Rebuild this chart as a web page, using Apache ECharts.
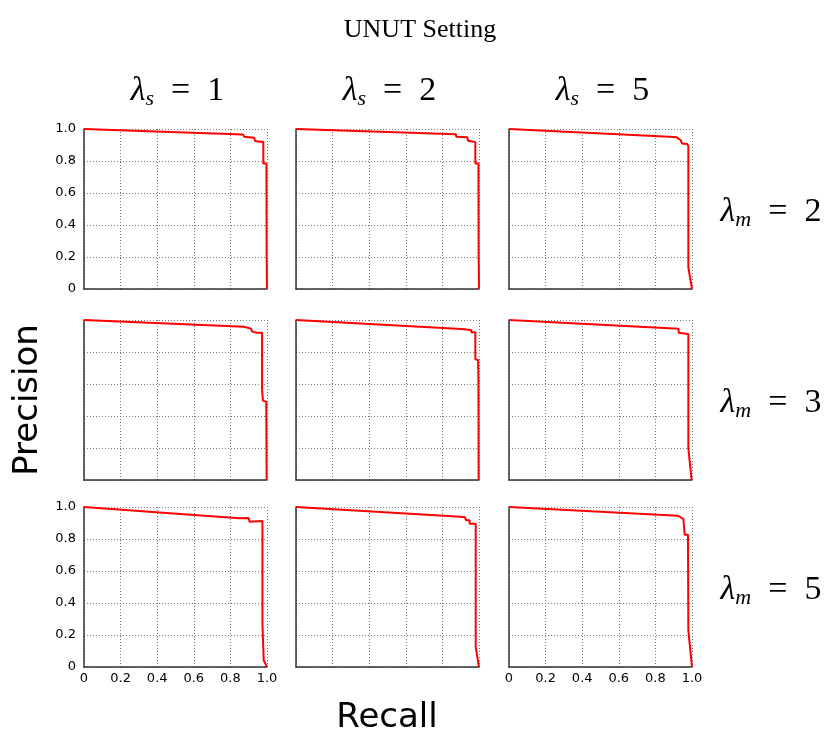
<!DOCTYPE html>
<html>
<head>
<meta charset="utf-8">
<script src="https://cdn.jsdelivr.net/npm/echarts@6/dist/echarts.min.js"></script>
<style>
  html, body { margin: 0; padding: 0; background: #fff; }
  #chart { width: 825px; height: 734px; }
</style>
</head>
<body>
<div id="chart"></div>
<script>
// tick labels shared by every panel
const tickValues = [0, 0.2, 0.4, 0.6, 0.8, 1.0];
const tickLabels = ['0', '0.2', '0.4', '0.6', '0.8', '1.0'];

const colLabels = ['1', '2', '5'];   // lambda_s
const rowLabels = ['2', '3', '5'];   // lambda_m

// [recall, precision] points
const pr_m2_s1 = [[0, 1], [0.87, 0.965], [0.875, 0.952], [0.93, 0.945], [0.935, 0.925], [0.96, 0.92], [0.98, 0.92], [0.98, 0.784], [0.997, 0.784], [0.998, 0.22], [1.0, 0]];
const pr_m2_s2 = [[0, 1], [0.873, 0.967], [0.876, 0.952], [0.936, 0.948], [0.94, 0.927], [0.945, 0.92], [0.98, 0.918], [0.98, 0.785], [0.997, 0.784], [0.998, 0.22], [1.0, 0]];
const pr_m2_s5 = [[0, 1], [0.876, 0.952], [0.916, 0.948], [0.938, 0.931], [0.945, 0.926], [0.945, 0.91], [0.975, 0.906], [0.98, 0.889], [0.98, 0.136], [1.0, 0]];
const pr_m3_s1 = [[0, 1], [0.873, 0.958], [0.877, 0.946], [0.913, 0.946], [0.918, 0.929], [0.94, 0.921], [0.973, 0.921], [0.973, 0.56], [0.978, 0.496], [0.996, 0.488], [0.998, 0]];
const pr_m3_s2 = [[0, 1], [0.904, 0.944], [0.905, 0.938], [0.958, 0.938], [0.958, 0.923], [0.98, 0.923], [0.98, 0.754], [0.995, 0.75], [0.997, 0.62], [0.998, 0]];
const pr_m3_s5 = [[0, 1], [0.927, 0.946], [0.927, 0.921], [0.98, 0.9125], [0.98, 0.198], [0.998, 0]];
const pr_m5_s1 = [[0, 1], [0.847, 0.929], [0.9, 0.931], [0.905, 0.908], [0.975, 0.9125], [0.975, 0.27], [0.982, 0.042], [1.0, 0]];
const pr_m5_s2 = [[0, 1], [0.922, 0.9375], [0.93, 0.917], [0.949, 0.917], [0.949, 0.896], [0.982, 0.896], [0.982, 0.125], [1.0, 0]];
const pr_m5_s5 = [[0, 1], [0.922, 0.946], [0.953, 0.925], [0.96, 0.827], [0.978, 0.827], [0.98, 0.229], [1.0, 0]];

const panels = [
  [pr_m2_s1, pr_m2_s2, pr_m2_s5],
  [pr_m3_s1, pr_m3_s2, pr_m3_s5],
  [pr_m5_s1, pr_m5_s2, pr_m5_s5]
];

(function () {
  var myChart = echarts.init(document.getElementById('chart'));

  const colLeft = [84, 296, 509];
  const rowTop = [129, 320, 507];
  const panelW = 183, panelH = 160;

  // which panels show tick labels (as in the original figure)
  const showY = [[true, false, false], [false, false, false], [true, false, false]];
  const showX = [[false, false, false], [false, false, false], [true, false, true]];

  function fmt(v) {
    const i = tickValues.findIndex(t => Math.abs(t - v) < 1e-6);
    return i >= 0 ? tickLabels[i] : '';
  }

  const grid = [], xAxis = [], yAxis = [], series = [];
  for (let r = 0; r < 3; r++) {
    for (let c = 0; c < 3; c++) {
      const k = r * 3 + c;
      grid.push({ left: colLeft[c], top: rowTop[r], width: panelW, height: panelH, outerBoundsMode: 'none' });
      const axisBase = {
        type: 'value', min: 0, max: 1, interval: 0.2, gridIndex: k,
        axisLine: { show: true, onZero: false, lineStyle: { color: '#333', width: 1.5 } },
        axisTick: { show: false },
        splitLine: { show: true, lineStyle: { color: '#7a7a7a', type: [1, 2], width: 1 } }
      };
      xAxis.push(Object.assign({}, axisBase, {
        axisLabel: { show: showX[r][c], formatter: fmt, margin: 5, color: '#000', fontSize: 13, fontFamily: 'DejaVu Sans' }
      }));
      yAxis.push(Object.assign({}, axisBase, {
        axisLabel: { show: showY[r][c], formatter: fmt, margin: 8, color: '#000', fontSize: 13, fontFamily: 'DejaVu Sans' }
      }));
      series.push({
        type: 'line', xAxisIndex: k, yAxisIndex: k,
        data: panels[r][c], showSymbol: false, symbol: 'none',
        lineStyle: { color: '#ff0000', width: 2 }
      });
    }
  }

  const lamRich = {
    l: { fontFamily: 'Liberation Serif', fontStyle: 'italic', fontWeight: 'normal', fontSize: 34, color: '#000' },
    sub: { fontFamily: 'Liberation Serif', fontStyle: 'italic', fontWeight: 'normal', fontSize: 22, color: '#000', padding: [16, 0, 0, 0] },
    n: { fontFamily: 'Liberation Serif', fontWeight: 'normal', fontSize: 34, color: '#000' }
  };

  const titles = [{
    text: 'UNUT Setting', left: 415, top: 12, textAlign: 'center',
    textStyle: { fontFamily: 'Liberation Serif', fontWeight: 'normal', fontSize: 26, color: '#000' }
  }];
  for (let c = 0; c < 3; c++) {
    titles.push({
      text: '{l|λ}{sub|s}{n|  =  ' + colLabels[c] + '}',
      left: colLeft[c] + panelW / 2 - 3, top: 67, textAlign: 'center',
      textStyle: { fontWeight: 'normal', rich: lamRich }
    });
  }
  for (let r = 0; r < 3; r++) {
    titles.push({
      text: '{l|λ}{sub|m}{n|  =  ' + rowLabels[r] + '}',
      left: 766, top: rowTop[r] + panelH / 2 - 21, textAlign: 'center',
      textStyle: { fontWeight: 'normal', rich: lamRich }
    });
  }

  var option = {
    animation: false,
    backgroundColor: '#fff',
    title: titles,
    grid: grid,
    xAxis: xAxis,
    yAxis: yAxis,
    series: series,
    graphic: [
      {
        type: 'text', x: 28, y: 400, rotation: Math.PI / 2,
        style: { text: 'Precision', fontFamily: 'DejaVu Sans', fontSize: 34, fill: '#000', align: 'center', verticalAlign: 'middle' }
      },
      {
        type: 'text', x: 387, y: 718,
        style: { text: 'Recall', fontFamily: 'DejaVu Sans', fontSize: 34, fill: '#000', align: 'center', verticalAlign: 'middle' }
      }
    ]
  };

  myChart.setOption(option);
  window.addEventListener('resize', function () {
    myChart.resize();
  });
})();
</script>
</body>
</html>
